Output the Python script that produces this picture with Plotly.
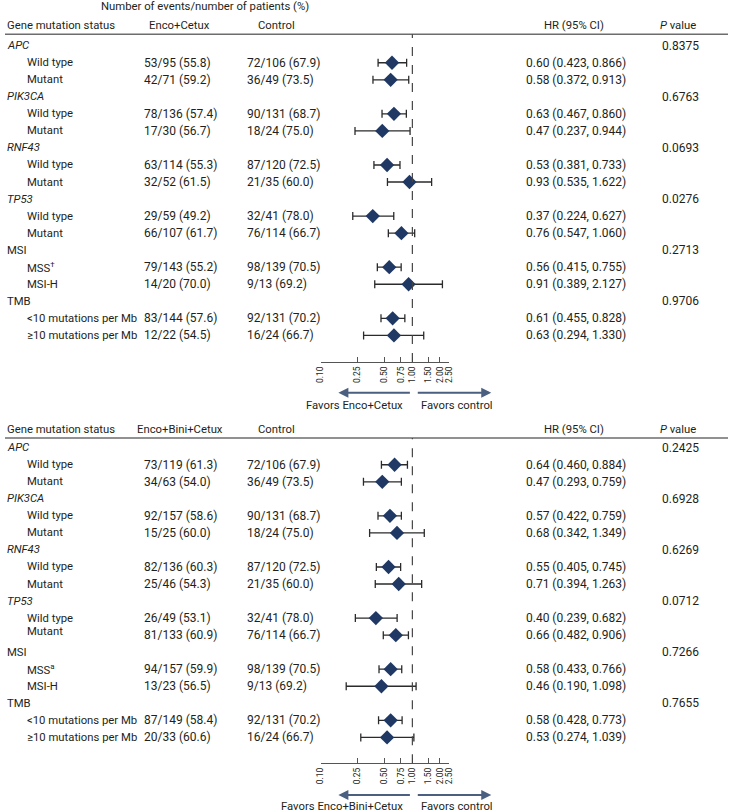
import math
import plotly.graph_objects as go

# ── Data ──────────────────────────────────────────────────────────────────────
groups = ["APC", "PIK3CA", "RNF43", "TP53", "MSI", "TMB"]
group_italic = [True, True, True, True, False, False]

top_subgroups = ["Wild type", "Mutant", "Wild type", "Mutant", "Wild type", "Mutant",
                 "Wild type", "Mutant", "MSS<sup>†</sup>", "MSI-H",
                 "&lt;10 mutations per Mb", "≥10 mutations per Mb"]
bot_subgroups = ["Wild type", "Mutant", "Wild type", "Mutant", "Wild type", "Mutant",
                 "Wild type", "Mutant", "MSS<sup>a</sup>", "MSI-H",
                 "&lt;10 mutations per Mb", "≥10 mutations per Mb"]

top_pvals = ["0.8375", "0.6763", "0.0693", "0.0276", "0.2713", "0.9706"]
bot_pvals = ["0.2425", "0.6928", "0.6269", "0.0712", "0.7266", "0.7655"]

top_treat = ["53/95 (55.8)", "42/71 (59.2)", "78/136 (57.4)", "17/30 (56.7)",
             "63/114 (55.3)", "32/52 (61.5)", "29/59 (49.2)", "66/107 (61.7)",
             "79/143 (55.2)", "14/20 (70.0)", "83/144 (57.6)", "12/22 (54.5)"]
top_ctrl = ["72/106 (67.9)", "36/49 (73.5)", "90/131 (68.7)", "18/24 (75.0)",
            "87/120 (72.5)", "21/35 (60.0)", "32/41 (78.0)", "76/114 (66.7)",
            "98/139 (70.5)", "9/13 (69.2)", "92/131 (70.2)", "16/24 (66.7)"]
top_hr = [0.60, 0.58, 0.63, 0.47, 0.53, 0.93, 0.37, 0.76, 0.56, 0.91, 0.61, 0.63]
top_lo = [0.423, 0.372, 0.467, 0.237, 0.381, 0.535, 0.224, 0.547, 0.415, 0.389, 0.455, 0.294]
top_hi = [0.866, 0.913, 0.860, 0.944, 0.733, 1.622, 0.627, 1.060, 0.755, 2.127, 0.828, 1.330]

bot_treat = ["73/119 (61.3)", "34/63 (54.0)", "92/157 (58.6)", "15/25 (60.0)",
             "82/136 (60.3)", "25/46 (54.3)", "26/49 (53.1)", "81/133 (60.9)",
             "94/157 (59.9)", "13/23 (56.5)", "87/149 (58.4)", "20/33 (60.6)"]
bot_ctrl = ["72/106 (67.9)", "36/49 (73.5)", "90/131 (68.7)", "18/24 (75.0)",
            "87/120 (72.5)", "21/35 (60.0)", "32/41 (78.0)", "76/114 (66.7)",
            "98/139 (70.5)", "9/13 (69.2)", "92/131 (70.2)", "16/24 (66.7)"]
bot_hr = [0.64, 0.47, 0.57, 0.68, 0.55, 0.71, 0.40, 0.66, 0.58, 0.46, 0.58, 0.53]
bot_lo = [0.460, 0.293, 0.422, 0.342, 0.405, 0.394, 0.239, 0.482, 0.433, 0.190, 0.428, 0.274]
bot_hi = [0.884, 0.759, 0.759, 1.349, 0.745, 1.263, 0.682, 0.906, 0.766, 1.098, 0.773, 1.039]

tick_vals = [0.10, 0.25, 0.50, 0.75, 1.00, 1.50, 2.00, 2.50]
tick_text = ["0.10", "0.25", "0.50", "0.75", "1.00", "1.50", "2.00", "2.50"]

# ── Layout constants (pixels) ─────────────────────────────────────────────────
W, H = 733, 812
FONT = "Roboto, Arial, sans-serif"
TXT = "#231f20"
NAVY = "#1f3864"
ARROW = "#4b5f80"
FS_LABEL = 11.3   # words
FS_NUM = 12       # number columns


def px(x):
    return x / W


def py(y):
    return 1 - y / H


fig = go.Figure()
annotations = []
shapes = []


def add_panel(n, treat_name, subgroups, pvals, treat, ctrl, hr, lo, hi,
              head_y, line_y, row0_y, axis_y, arrow_y, favors_y, header_title=False):
    xa = "x" if n == 1 else "x2"
    ya = "y" if n == 1 else "y2"
    step = 17.04

    # rows: group header at 3g, subgroups at 3g+1 and 3g+2
    rows = []
    for g in range(len(groups)):
        rows += [3 * g + 1, 3 * g + 2]

    fig.add_trace(go.Scatter(
        x=hr, y=rows, xaxis=xa, yaxis=ya, mode="markers",
        marker=dict(symbol="diamond", size=11, color=NAVY, line=dict(width=0)),
        error_x=dict(type="data", symmetric=False,
                     array=[h - m for m, h in zip(hr, hi)],
                     arrayminus=[m - l for m, l in zip(hr, lo)],
                     color="#2b2b2b", thickness=1.3, width=4),
        cliponaxis=False, showlegend=False, hoverinfo="skip",
    ))

    lay_y = dict(
        domain=[py(axis_y), py(line_y)],
        range=[(axis_y - row0_y) / step, (line_y - row0_y) / step],
        visible=False, showgrid=False, zeroline=False, anchor=xa,
    )
    lay_x = dict(
        type="log", domain=[px(320), px(450)],
        range=[math.log10(tick_vals[0]), math.log10(tick_vals[-1])],
        tickvals=tick_vals, ticktext=tick_text, tickangle=-90,
        ticks="inside", ticklen=5, tickcolor="#555", tickwidth=1,
        showline=True, linecolor="#555", linewidth=1,
        showgrid=False, zeroline=False, anchor=ya,
        tickfont=dict(size=8.5, color=TXT, family=FONT),
    )
    key = "" if n == 1 else "2"
    fig.update_layout(**{"xaxis" + key: lay_x, "yaxis" + key: lay_y})

    def txt(text, x, y, anchor="left", yref="paper", size=FS_LABEL, yshift=0):
        annotations.append(dict(
            text=text, x=x, y=y, xref="paper", yref=yref, xanchor=anchor,
            yanchor="middle", showarrow=False, yshift=yshift,
            font=dict(size=size, color=TXT, family=FONT),
        ))

    # column headers
    if header_title:
        txt("Number of events/number of patients (%)", px(203), py(6), "center")
    txt("Gene mutation status", px(0.5), py(head_y))
    txt(treat_name, px(177), py(head_y), "center")
    txt("Control", px(275), py(head_y), "center")
    txt("HR (95% CI)", px(577), py(head_y), "center")
    txt("<i>P</i> value", px(682), py(head_y), "center")

    shapes.append(dict(type="line", xref="paper", yref="paper",
                       x0=0, x1=1, y0=py(line_y), y1=py(line_y),
                       line=dict(color="#6d6d6d", width=1.5)))
    shapes.append(dict(type="line", xref=xa, yref=ya + " domain",
                       x0=1, x1=1, y0=0, y1=1,
                       line=dict(color="#444", width=1.2, dash="dash")))

    for g, name in enumerate(groups):
        label = f"<i>{name}</i>" if group_italic[g] else name
        txt(label, px(0.5), 3 * g, yref=ya)
        txt(pvals[g], px(664), 3 * g, yref=ya, size=FS_NUM)
    for i, r in enumerate(rows):
        shift = 0
        if n == 2 and i == 7:
            shift = 4  # label sits a little high in the source figure
        txt(subgroups[i], px(20), r, yref=ya, yshift=shift)
        txt(treat[i], px(139), r, yref=ya, size=FS_NUM)
        txt(ctrl[i], px(243), r, yref=ya, size=FS_NUM)
        txt(f"{hr[i]:.2f} ({lo[i]:.3f}, {hi[i]:.3f})", px(526), r, yref=ya, size=FS_NUM)

    # favours arrows
    annotations.append(dict(
        x=px(338), y=py(arrow_y), xref="paper", yref="paper",
        ax=73, ay=0, axref="pixel", ayref="pixel", text="", showarrow=True,
        arrowhead=2, arrowsize=1, arrowwidth=2, arrowcolor=ARROW,
    ))
    annotations.append(dict(
        x=px(493), y=py(arrow_y), xref="paper", yref="paper",
        ax=-75, ay=0, axref="pixel", ayref="pixel", text="", showarrow=True,
        arrowhead=2, arrowsize=1, arrowwidth=2, arrowcolor=ARROW,
    ))
    txt(f"Favors {treat_name}", px(406), py(favors_y), "right")
    txt("Favors control", px(420), py(favors_y), "left")


add_panel(1, "Enco+Cetux", top_subgroups, top_pvals, top_treat, top_ctrl,
          top_hr, top_lo, top_hi,
          head_y=25.7, line_y=34.3, row0_y=45.7, axis_y=362,
          arrow_y=392.7, favors_y=405.5, header_title=True)
add_panel(2, "Enco+Bini+Cetux", bot_subgroups, bot_pvals, bot_treat, bot_ctrl,
          bot_hr, bot_lo, bot_hi,
          head_y=430, line_y=438, row0_y=447.7, axis_y=763.3,
          arrow_y=795, favors_y=806.5)

fig.update_layout(
    width=W, height=H,
    margin=dict(l=0, r=0, t=0, b=0),
    paper_bgcolor="white", plot_bgcolor="white",
    font=dict(family=FONT, size=FS_LABEL, color=TXT),
    annotations=annotations, shapes=shapes,
    showlegend=False,
)

# drop the default 8px page margin so the figure fills the window exactly
fig.write_html("out.html", config={"displayModeBar": False},
               post_script="document.body.style.margin='0';")
